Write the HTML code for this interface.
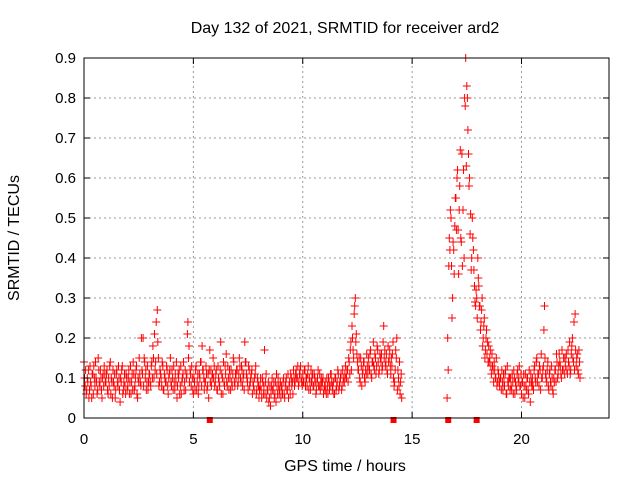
<!DOCTYPE html>
<html><head><meta charset="utf-8"><style>
body{margin:0;background:#fff}
svg text{font-family:"Liberation Sans",sans-serif;font-size:15px;fill:#000}
svg text.big{font-size:16px}
</style></head><body>
<svg id="chart" width="640" height="480" xmlns="http://www.w3.org/2000/svg">
<rect width="640" height="480" fill="#fff"/>
<text class="big" x="345" y="33" text-anchor="middle">Day 132 of 2021, SRMTID for receiver ard2</text>
<text class="big" transform="translate(19,238) rotate(-90)" text-anchor="middle">SRMTID / TECUs</text>
<text class="big" x="345" y="471" text-anchor="middle">GPS time / hours</text>
<g id="grid"></g><g id="marks"></g><g id="axes"></g>
</svg>
<script>
// data in hundredths of TECU
const segStarts=[0,16.6];
const step=0.05;
const seg1A=[14,8,6,10,12,7,9,5,11,13,8,10,6,15,9,12,7,10,8,11,
9,12,6,8,14,10,5,9,11,7,12,8,10,4,9,13,7,11,6,10,
8,12,9,6,11,14,7,10,13,5,9,11,8,12,20,15,10,7,13,9,
11,8,14,18,10,12,24,27,15,9,11,8,13,7,10,9,12,6,11,15,
8,10,13,7,9,5,11,12,8,6,10,14,9,7,11,24,18,12,8,10,
6,9,12,7,11,8,10,14,18,12,7,9,11,8,5,17,12,10,15,13,
9,12,7,10,8,19,11,6,9,13,16,8,10,12,7,9,11,14,8,10,
12,9,15,10,13,8,11,19,14,10,7,12,9,11,6,8,10,13,7,9,
5,8,7,10,6,17,9,5,7,4,8,6,10,7,5,9,11,6,8,7,
5,7,9,6,8,10,7,5,9,11,8,6,10,9,12,10,8,11,13,9,
11,9,12,10,8,13,10,7,9,11,8,10,6,9,12,8,7,10,9,6,
8,7,10,6,9,8,11,7,9,6,10,8,12,7,9,11,8,10,9,13,
10,12,15,11,19,23,17,26,30,21,14,12,10,15,8,12,14,9,11,13,
15,12,17,10,14,13,16,11,18,14,12,15,16,13,23,17,14,12,18,15,
13,15,16,10,9,17,20,12,8,6,11];
const seg1B=[10,12,7,9,5,13,8,11,6,10,14,9,7,12,8,10,5,11,13,9,
11,7,10,13,6,9,12,8,5,11,9,13,7,10,12,6,9,8,11,7,
10,6,13,9,7,11,8,12,6,10,15,9,20,11,8,14,12,9,7,11,
9,13,10,15,21,14,11,19,8,12,10,14,7,11,9,13,8,10,12,9,
12,7,9,11,14,8,10,6,13,9,11,7,12,10,21,15,9,11,13,7,
10,7,13,9,6,11,14,8,12,10,9,13,7,11,12,9,8,11,10,8,
11,7,13,9,12,6,10,14,8,11,9,13,7,10,12,8,15,9,11,12,
8,11,13,9,12,10,7,14,11,9,13,8,10,12,9,7,11,6,10,8,
7,10,5,9,8,6,11,7,9,5,3,8,7,9,6,4,8,10,6,9,
8,6,10,5,9,7,11,8,6,10,9,12,8,11,10,13,9,12,10,8,
9,12,8,10,11,7,9,12,10,8,11,9,7,10,8,11,9,8,10,7,
9,6,8,10,7,11,9,8,6,10,7,9,11,8,10,7,12,9,11,10,
12,9,14,17,12,20,15,28,19,16,12,15,9,13,11,14,10,12,16,11,
13,16,11,14,19,12,15,13,17,11,16,14,12,19,15,13,16,11,14,17,
11,13,19,8,12,15,7,10,14,9,5];
const seg2A=[5,12,45,52,38,30,42,48,
55,60,47,52,67,44,38,62,80,90,
83,72,58,46,37,50,42,33,28,30,
40,33,28,24,30,20,25,17,22,19,
18,15,13,16,12,14,10,15,9,11,
8,10,12,7,9,11,6,13,8,10,
10,7,9,12,6,8,11,9,13,8,
6,9,11,5,8,10,7,12,4,9,
10,7,13,9,15,11,8,12,16,10,
13,28,11,9,14,7,12,8,10,6,
9,12,16,10,13,14,11,17,12,15,
13,16,11,14,19,12,18,15,24,26,
13,16,11,14];
const seg2B=[20,38,42,50,25,44,36,55,
47,62,36,58,45,66,52,40,78,63,
80,66,60,51,40,45,37,29,32,25,
35,28,22,27,18,23,15,20,16,14,
14,17,11,13,9,12,10,8,12,9,
10,7,9,11,8,12,6,9,10,7,
8,11,6,10,9,7,12,10,8,11,
9,5,8,11,7,10,6,9,11,8,
8,12,10,14,9,11,13,7,10,12,
22,15,10,12,8,11,9,13,7,10,
12,9,14,11,16,13,10,12,15,11,
15,12,17,13,11,16,20,14,12,17,
15,12,17,10];
const zeroMarks=[5.75,14.15,16.65,17.95];
const xTicks=[0,5,10,15,20];
const yTicks=[0,0.1,0.2,0.3,0.4,0.5,0.6,0.7,0.8,0.9];
const yTickLabels=["0","0.1","0.2","0.3","0.4","0.5","0.6","0.7","0.8","0.9"];

const X0=84,X1=609,Y0=418,Y1=58;
const xs=v=>X0+v/24*(X1-X0);
const ys=v=>Y0-v/0.9*(Y0-Y1);
const NS="http://www.w3.org/2000/svg";
function mk(tag,parent,attrs){const e=document.createElementNS(NS,tag);for(const k in attrs)e.setAttribute(k,attrs[k]);parent.appendChild(e);return e;}
const grid=document.getElementById('grid'),marks=document.getElementById('marks'),axes=document.getElementById('axes');
yTicks.forEach((t,i)=>{
 const y=ys(t);
 if(i>0&&i<yTicks.length-1){const g=mk('line',grid,{x1:X0,x2:X1,y1:y,y2:y,stroke:'#999','stroke-dasharray':'2,3'});
 
 }
 mk('line',axes,{x1:X0,x2:X0+6,y1:y,y2:y,stroke:'#000'});
 mk('line',axes,{x1:X1,x2:X1-6,y1:y,y2:y,stroke:'#000'});
 const l=mk('text',axes,{x:X0-8,y:y+5,'text-anchor':'end'});l.textContent=yTickLabels[i];
 
 
});
xTicks.forEach(t=>{
 const x=xs(t);
 if(t>0){const g=mk('line',grid,{x1:x,x2:x,y1:Y0,y2:Y1,stroke:'#999','stroke-dasharray':'2,3'});
 
 }
 mk('line',axes,{x1:x,x2:x,y1:Y0,y2:Y0-6,stroke:'#000'});
 mk('line',axes,{x1:x,x2:x,y1:Y1,y2:Y1+6,stroke:'#000'});
 const l=mk('text',axes,{x:x,y:Y0+26,'text-anchor':'middle'});l.textContent=t;
 
 
});
const frame=mk('rect',axes,{x:X0,y:Y1,width:X1-X0,height:Y0-Y1,fill:'none',stroke:'#000'});


let d='';
function addSeg(start,arr){arr.forEach((v,i)=>{const x=xs(start+i*step),y=ys(v/100);d+=`M${(x-4).toFixed(1)} ${y.toFixed(1)}h8M${x.toFixed(1)} ${(y-4).toFixed(1)}v8`;});}
addSeg(segStarts[0],seg1A);addSeg(segStarts[0]+step/2,seg1B);
addSeg(segStarts[1],seg2A);addSeg(segStarts[1]+step/2,seg2B);
const p=mk('path',marks,{d:d,stroke:'#f00','stroke-width':1,fill:'none'});


zeroMarks.forEach(t=>{const r=mk('rect',marks,{x:xs(t)-3,y:Y0-1,width:6,height:6,fill:'#f00'});
 
 });
</script>
</body></html>
